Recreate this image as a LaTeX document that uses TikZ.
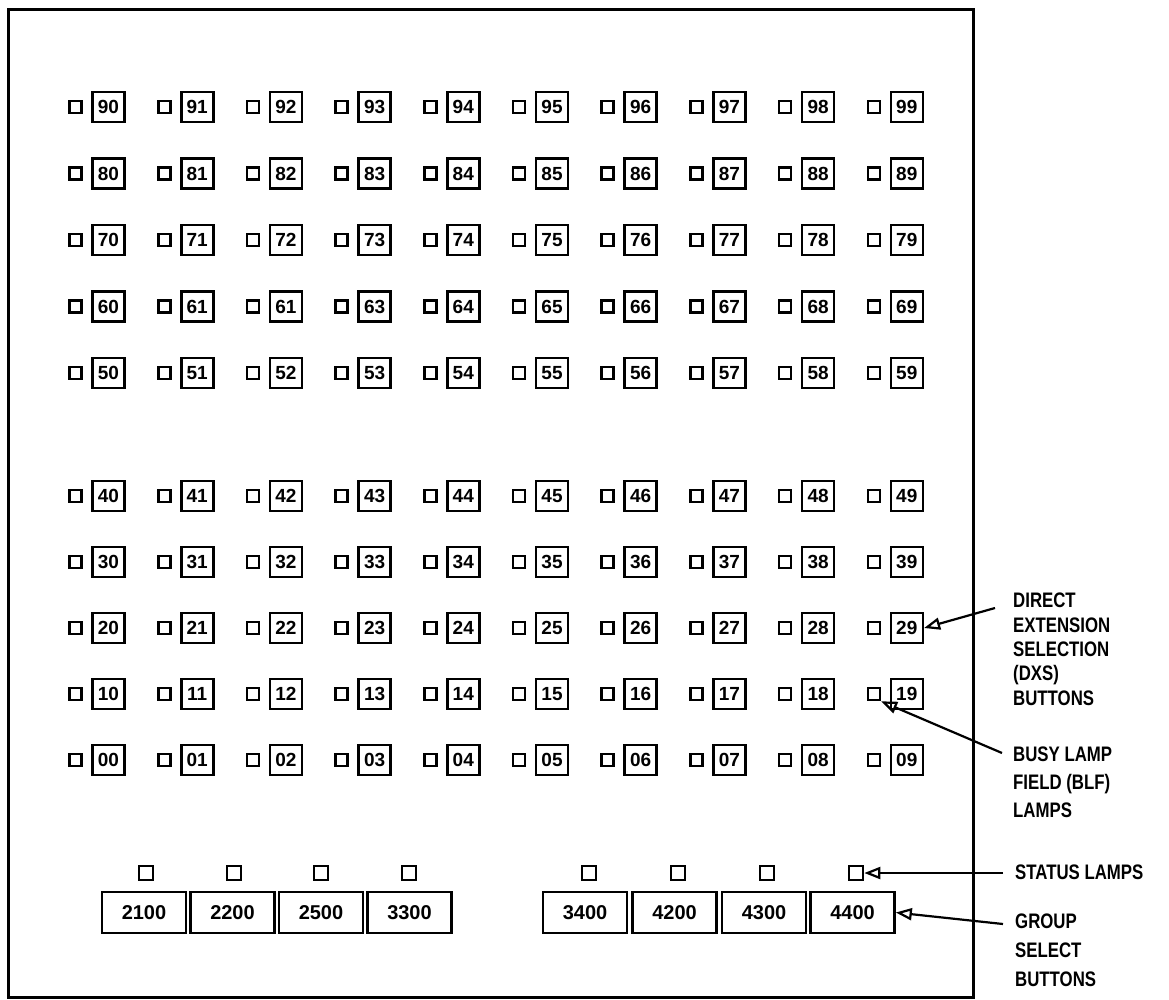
\documentclass[tikz,border=0pt]{standalone}
\usepackage{fontspec}
\setmainfont{Liberation Sans}
\newfontfamily\lblfont{Liberation Sans}[FakeStretch=0.8]
\usetikzlibrary{arrows.meta,calc}
\begin{document}
\begin{tikzpicture}[x=1pt,y=-1pt,
  lamp/.style={draw, line width=2.6pt, minimum width=12pt, minimum height=12pt, inner sep=0pt},
  slamp/.style={lamp, minimum width=14pt, minimum height=14pt},
  dxsbtn/.style={draw, line width=2.6pt, minimum width=32pt, minimum height=30pt, inner sep=0pt,
    font=\bfseries\fontsize{19}{19}\selectfont},
  grpbtn/.style={draw, line width=2.6pt, minimum width=84pt, minimum height=41pt, inner sep=0pt,
    font=\bfseries\fontsize{20}{20}\selectfont},
  callout/.style={align=left, anchor=north west, inner sep=0pt},
  pointer/.style={line width=2.2pt, -{Triangle[open, length=16pt, width=12pt, line width=2.2pt]}}
]
\useasboundingbox (0,0) rectangle (1169,999);
% panel frame
\draw[line width=3pt] (8,9) rectangle (973,997);

% upper DXS field (rows 9..5)
\foreach \r [count=\ri from 0] in {9,8,7,6,5} {
  \foreach \c in {0,...,9} {
    \pgfmathsetmacro\ly{107+66.5*\ri}
    \pgfmathsetmacro\lx{75.5+88.7*\c}
    \pgfmathsetmacro\bx{\lx+33}
    \edef\txt{\r\c}
    \ifnum\r\c=62 \def\txt{61}\fi
    \node[lamp] (l\r\c) at (\lx,\ly) {};
    \node[dxsbtn] (b\r\c) at (\bx,\ly) {\txt};
  }
}
% lower DXS field (rows 4..0)
\foreach \r [count=\ri from 0] in {4,3,2,1,0} {
  \foreach \c in {0,...,9} {
    \pgfmathsetmacro\ly{496+66*\ri}
    \pgfmathsetmacro\lx{75.5+88.7*\c}
    \pgfmathsetmacro\bx{\lx+33}
    \node[lamp] (l\r\c) at (\lx,\ly) {};
    \node[dxsbtn] (b\r\c) at (\bx,\ly) {\r\c};
  }
}

% group select buttons and status lamps
\foreach \n/\bx/\lx/\t in {1/144/146/2100, 2/232.5/234/2200, 3/321/321/2500, 4/409.5/409/3300,
                           5/585/589/3400, 6/674.5/678/4200, 7/764/767/4300, 8/852.5/856/4400} {
  \node[slamp] (sl\n) at (\lx,873) {};
  \node[grpbtn] (g\n) at (\bx,912.5) {\t};
}

% callouts
\node[callout, font=\lblfont\bfseries\fontsize{21}{24.3}\selectfont] (dxs) at (1013,593)
  {DIRECT\\EXTENSION\\SELECTION\\(DXS)\\BUTTONS};
\node[callout, font=\lblfont\bfseries\fontsize{21}{28}\selectfont] (blf) at (1013,747)
  {BUSY LAMP\\FIELD (BLF)\\LAMPS};
\node[callout, font=\lblfont\bfseries\fontsize{21}{21}\selectfont] (stl) at (1015,865)
  {STATUS LAMPS};
\node[callout, font=\lblfont\bfseries\fontsize{21}{29}\selectfont] (gsb) at (1015,914)
  {GROUP\\SELECT\\BUTTONS};

\coordinate (dxsA) at (995,608);
\coordinate (blfA) at (1002,753);
\coordinate (stlA) at (1003,873);
\coordinate (gsbA) at (1003,924);

\draw[pointer] (dxsA) -- (b29.east);
\draw[pointer] (blfA) -- (l19.south east);
\draw[pointer] (stlA) -- (sl8.east);
\draw[pointer] (gsbA) -- (g8.east);
\end{tikzpicture}
\end{document}
